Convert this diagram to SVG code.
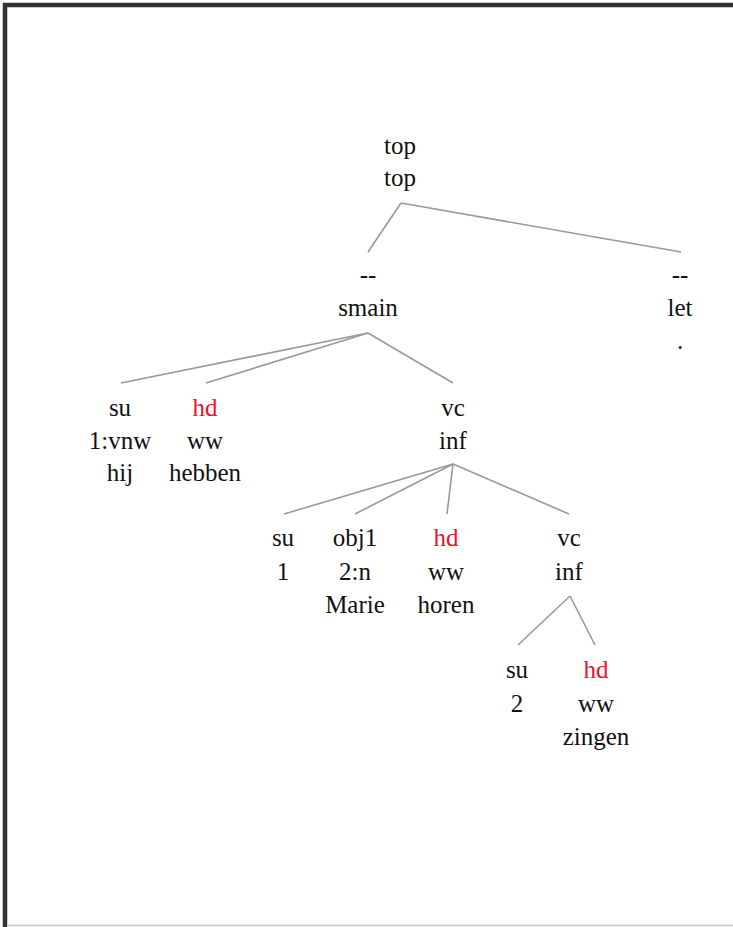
<svg xmlns="http://www.w3.org/2000/svg" width="733" height="927" viewBox="0 0 733 927">
<style>
text{font-family:"Liberation Serif","Times New Roman",serif;font-size:25px;fill:#111;text-anchor:middle}
.hd{fill:#f0102e}
.c line{stroke:#999;stroke-width:1.6;fill:none}
</style>
<rect width="733" height="927" fill="#fff"/>
<g id="frame">
<line x1="3" y1="5" x2="733" y2="5" stroke="#333" stroke-width="4.5"/>
<line x1="5" y1="3" x2="5" y2="927" stroke="#333" stroke-width="4.5"/>
<line x1="7" y1="925.5" x2="733" y2="925.5" stroke="#d0d0d0" stroke-width="2"/>
</g>
<g class="c" id="connectors">
<line x1="401" y1="203" x2="368" y2="252"/>
<line x1="401" y1="203" x2="681" y2="252"/>
<line x1="368" y1="333" x2="121" y2="383"/>
<line x1="368" y1="333" x2="206" y2="383"/>
<line x1="368" y1="333" x2="453" y2="383"/>
<line x1="453" y1="464" x2="284" y2="514"/>
<line x1="453" y1="464" x2="355" y2="514"/>
<line x1="453" y1="464" x2="447" y2="514"/>
<line x1="453" y1="464" x2="569" y2="514"/>
<line x1="570" y1="596" x2="518" y2="645"/>
<line x1="570" y1="596" x2="595" y2="645"/>
</g>
<g id="n-top"><text x="400" y="154">top</text><text x="400" y="186">top</text></g>
<g id="n-smain"><text x="368" y="283">--</text><text x="368" y="316">smain</text></g>
<g id="n-let"><text x="680" y="283">--</text><text x="680" y="316">let</text><text x="680" y="349">.</text></g>
<g id="n-su1"><text x="120" y="416">su</text><text x="120" y="449">1:vnw</text><text x="120" y="481">hij</text></g>
<g id="n-hd1"><text class="hd" x="205" y="416">hd</text><text x="205" y="449">ww</text><text x="205" y="481">hebben</text></g>
<g id="n-vc1"><text x="453" y="416">vc</text><text x="453" y="449">inf</text></g>
<g id="n-su2"><text x="283" y="546">su</text><text x="283" y="580">1</text></g>
<g id="n-obj1"><text x="355" y="546">obj1</text><text x="355" y="580">2:n</text><text x="355" y="613">Marie</text></g>
<g id="n-hd2"><text class="hd" x="446" y="546">hd</text><text x="446" y="580">ww</text><text x="446" y="613">horen</text></g>
<g id="n-vc2"><text x="569" y="546">vc</text><text x="569" y="580">inf</text></g>
<g id="n-su3"><text x="517" y="678">su</text><text x="517" y="712">2</text></g>
<g id="n-hd3"><text class="hd" x="596" y="678">hd</text><text x="596" y="712">ww</text><text x="596" y="745">zingen</text></g>
</svg>
